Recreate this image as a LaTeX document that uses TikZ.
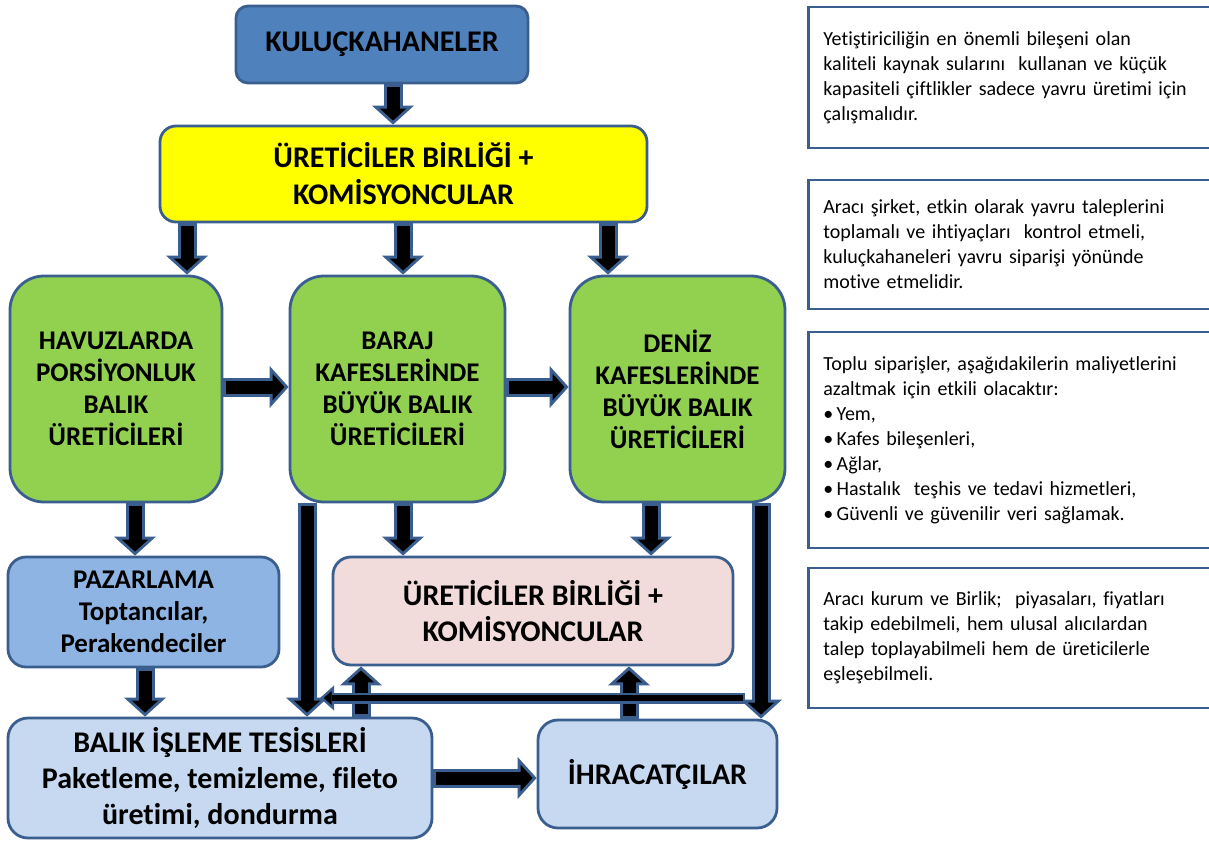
\documentclass[tikz,border=0pt]{standalone}
\usepackage{fontspec}
\setmainfont{Carlito}[Ligatures=NoCommon]
\usetikzlibrary{arrows.meta,calc}
\definecolor{bordc}{HTML}{3A5F8F}
\definecolor{kcol}{HTML}{4F81BD}
\definecolor{ycol}{HTML}{FFFF00}
\definecolor{gcol}{HTML}{92D050}
\definecolor{pcol}{HTML}{8EB4E3}
\definecolor{rcol}{HTML}{F2DCDB}
\definecolor{lcol}{HTML}{C6D9F1}
\tikzset{
  box/.style={draw=bordc, line width=2.8pt, align=center, inner sep=0pt,
    font=\bfseries\fontsize{30}{36}\selectfont},
  note/.style={draw=bordc, line width=2.8pt, fill=white, align=left, anchor=west,
    text width=380pt, inner xsep=15pt, inner ysep=0pt,
    font=\fontsize{20}{25}\selectfont},
  aout/.style={draw=bordc, line width=19pt,
    -{Triangle[width=42pt,length=19pt,line width=0pt]}},
  ain/.style={draw=black, line width=13pt, shorten >=4pt, shorten <=3pt,
    -{Triangle[width=26.5pt,length=12pt,line width=0pt]}},
  tout/.style={draw=bordc, line width=11pt,
    -{Triangle[width=25pt,length=14pt,line width=0pt]}},
  tin/.style={draw=black, line width=6pt, shorten >=3.75pt, shorten <=2.5pt,
    -{Triangle[width=13.8pt,length=7.75pt,line width=0pt]}},
}
\newcommand\barr[2]{\draw[aout] #1 -- #2; \draw[ain] #1 -- #2;}
\newcommand\tarr[2]{\draw[tout] #1 -- #2; \draw[tin] #1 -- #2;}
\begin{document}
\begin{tikzpicture}[x=1pt,y=-1pt]
\fill[white] (0,0) rectangle (1209,840);
\useasboundingbox (0,0) rectangle (1209,840);

% main boxes
\node[box, fill=kcol, minimum width=292pt, minimum height=77pt, rounded corners=12pt] (k) at (382,44.5) {KULUÇKAHANELER};
\node[box, fill=ycol, minimum width=487pt, minimum height=96pt, rounded corners=16pt,
  font=\bfseries\fontsize{30}{37}\selectfont] (y) at (403.5,174) {ÜRETİCİLER BİRLİĞİ +\\KOMİSYONCULAR};
\node[box, fill=gcol, minimum width=212pt, minimum height=226pt, rounded corners=34pt,
  font=\bfseries\fontsize{27}{32}\selectfont] (gl) at (116,389) {HAVUZLARDA\\PORSİYONLUK\\BALIK\\ÜRETİCİLERİ};
\node[box, fill=gcol, minimum width=215pt, minimum height=226pt, rounded corners=34pt,
  font=\bfseries\fontsize{27}{32}\selectfont] (gm) at (397.5,389) {BARAJ\\KAFESLERİNDE\\BÜYÜK BALIK\\ÜRETİCİLERİ};
\node[box, fill=gcol, minimum width=215pt, minimum height=226pt, rounded corners=34pt,
  font=\bfseries\fontsize{27}{32}\selectfont] (gr) at (677.5,389) {DENİZ\\KAFESLERİNDE\\BÜYÜK BALIK\\ÜRETİCİLERİ};
\node[box, fill=pcol, minimum width=271pt, minimum height=110pt, rounded corners=18pt,
  font=\bfseries\fontsize{27}{32}\selectfont] (paz) at (143.5,612) {PAZARLAMA\\Toptancılar,\\Perakendeciler};
\node[box, fill=rcol, minimum width=400pt, minimum height=108pt, rounded corners=18pt] (pink) at (533,611) {ÜRETİCİLER BİRLİĞİ +\\KOMİSYONCULAR};
\node[box, fill=lcol, minimum width=424pt, minimum height=120pt, rounded corners=20pt] (bal) at (220,778) {BALIK İŞLEME TESİSLERİ\\Paketleme, temizleme, fileto\\üretimi, dondurma};
\node[box, fill=lcol, minimum width=239pt, minimum height=108pt, rounded corners=20pt] (ihr) at (657.5,774) {İHRACATÇILAR};

% notes
\node[note, minimum height=141pt] (n1) at (807,77.5) {Yetiştiriciliğin en önemli bileşeni olan\\kaliteli kaynak sularını\ \ kullanan ve küçük\\kapasiteli çiftlikler sadece yavru üretimi için\\çalışmalıdır.};
\node[note, minimum height=129pt] (n2) at (807,244.5) {Aracı şirket, etkin olarak yavru taleplerini\\toplamalı ve ihtiyaçları\ \ kontrol etmeli,\\kuluçkahaneleri yavru siparişi yönünde\\motive etmelidir.};
\node[note, minimum height=216pt] (n3) at (807,440) {Toplu siparişler, aşağıdakilerin maliyetlerini\\azaltmak için etkili olacaktır:\\•\,Yem,\\•\,Kafes bileşenleri,\\•\,Ağlar,\\•\,Hastalık\ \ teşhis ve tedavi hizmetleri,\\•\,Güvenli ve güvenilir veri sağlamak.};
\node[note, minimum height=140pt] (n4) at (807,638) {Aracı kurum ve Birlik;\ \ piyasaları, fiyatları\\takip edebilmeli, hem ulusal alıcılardan\\talep toplayabilmeli hem de üreticilerle\\eşleşebilmeli.};

% guide coordinates
\coordinate (c1) at (393,0);
\coordinate (c2) at (187,0);
\coordinate (c3) at (403,0);
\coordinate (c4) at (608,0);
\coordinate (c5) at (135,0);
\coordinate (c6) at (145,0);
\coordinate (c7) at (307,0);
\coordinate (c8) at (651,0);
\coordinate (c9) at (761,0);
\coordinate (c10) at (361,0);
\coordinate (c11) at (629,0);
\coordinate (r1) at (0,387);
\coordinate (r2) at (0,778);
\coordinate (ts) at (745,698);
\coordinate (te) at (320,698);

% arrows
\barr{(k.south -| c1)}{(y.north -| c1)}
\barr{(y.south -| c2)}{(gl.north -| c2)}
\barr{(y.south -| c3)}{(gm.north -| c3)}
\barr{(y.south -| c4)}{(gr.north -| c4)}
\barr{(gl.east |- r1)}{(gm.west |- r1)}
\barr{(gm.east |- r1)}{(gr.west |- r1)}
\barr{(gl.south -| c5)}{(paz.north -| c5)}
\barr{(paz.south -| c6)}{(bal.north -| c6)}
\barr{(gm.south -| c7)}{(bal.north -| c7)}
\barr{(gm.south -| c3)}{(pink.north -| c3)}
\barr{(gr.south -| c8)}{(pink.north -| c8)}
\barr{(gr.south -| c9)}{(ihr.north -| c9)}
\barr{(bal.north -| c10)}{(pink.south -| c10)}
\barr{(ihr.north -| c11)}{(pink.south -| c11)}
\barr{(bal.east |- r2)}{(ihr.west |- r2)}
\tarr{(ts)}{(te)}
\end{tikzpicture}
\end{document}
